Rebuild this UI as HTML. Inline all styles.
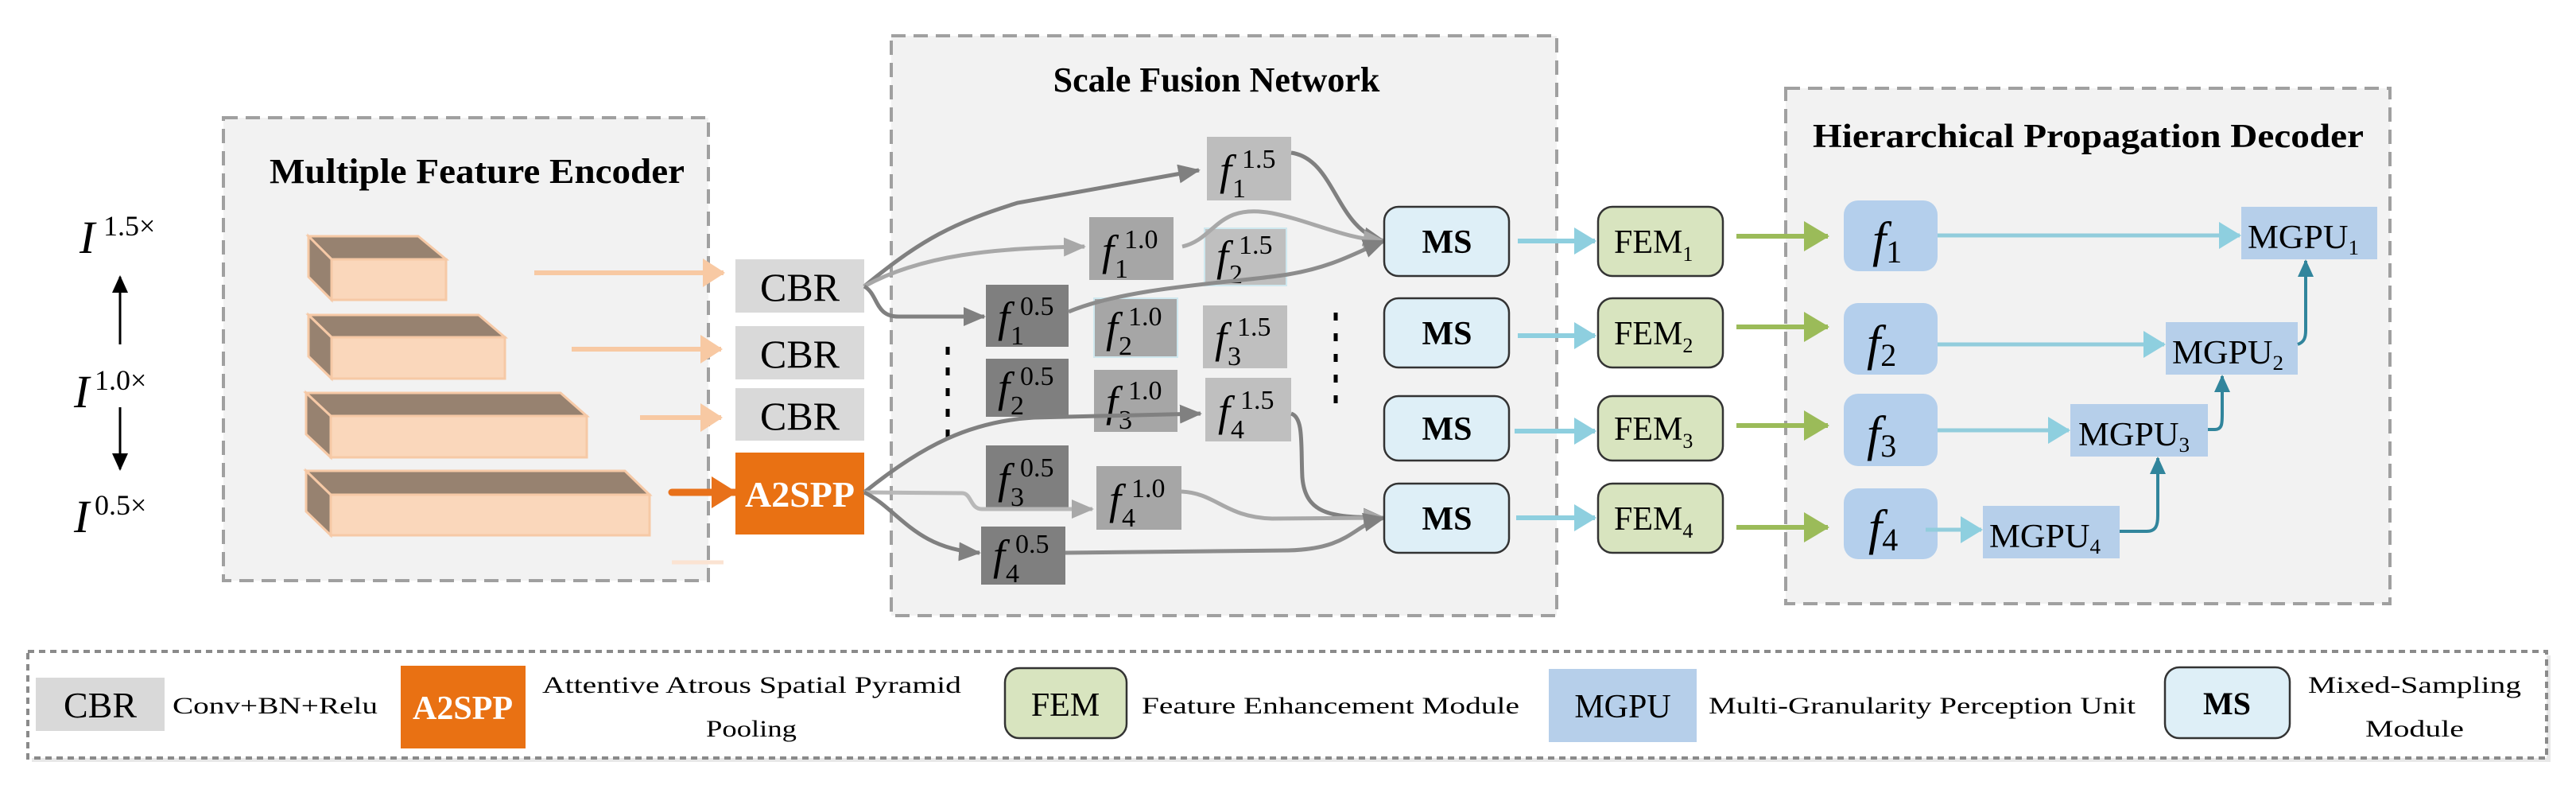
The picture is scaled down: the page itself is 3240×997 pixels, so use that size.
<!DOCTYPE html>
<html><head><meta charset="utf-8"><style>html,body{margin:0;padding:0;background:#fff}svg{display:block}svg text{font-family:"Liberation Serif","DejaVu Serif",serif}</style></head>
<body>
<svg width="3240" height="997" viewBox="0 0 3240 997" xmlns="http://www.w3.org/2000/svg">
<defs>
<marker id="ag" markerUnits="userSpaceOnUse" markerWidth="30" markerHeight="30" refX="26" refY="15" orient="auto"><path d="M0,3 L28,15 L0,27 Z" fill="#808080"/></marker>
<marker id="agl" markerUnits="userSpaceOnUse" markerWidth="30" markerHeight="30" refX="26" refY="15" orient="auto"><path d="M0,3 L28,15 L0,27 Z" fill="#a8a8a8"/></marker>
<marker id="ap" markerUnits="userSpaceOnUse" markerWidth="30" markerHeight="40" refX="26" refY="20" orient="auto"><path d="M0,2 L28,20 L0,38 Z" fill="#f8c9a3"/></marker>
<marker id="ao" markerUnits="userSpaceOnUse" markerWidth="34" markerHeight="44" refX="30" refY="22" orient="auto"><path d="M0,2 L32,22 L0,42 Z" fill="#e8711a"/></marker>
<marker id="ac" markerUnits="userSpaceOnUse" markerWidth="30" markerHeight="40" refX="26" refY="20" orient="auto"><path d="M0,3 L28,20 L0,37 Z" fill="#8ecfdf"/></marker>
<marker id="agr" markerUnits="userSpaceOnUse" markerWidth="34" markerHeight="44" refX="30" refY="22" orient="auto"><path d="M0,3 L32,22 L0,41 Z" fill="#9bbb59"/></marker>
<marker id="at" markerUnits="userSpaceOnUse" markerWidth="24" markerHeight="24" refX="20" refY="12" orient="auto"><path d="M0,2 L22,12 L0,22 Z" fill="#31859c"/></marker>
<marker id="ab" markerUnits="userSpaceOnUse" markerWidth="24" markerHeight="24" refX="20" refY="12" orient="auto"><path d="M0,2 L22,12 L0,22 Z" fill="#000"/></marker>
</defs>

<rect x="281" y="148" width="610" height="582" fill="#f2f2f2" stroke="#a0a0a0" stroke-width="4" stroke-dasharray="18,10"/>
<text x="339" y="230" font-size="44" font-weight="bold" textLength="522" lengthAdjust="spacingAndGlyphs">Multiple Feature Encoder</text>

<text x="100" y="318" font-size="58" font-style="italic">I</text><text x="130" y="296" font-size="36">1.5×</text>
<line x1="151" y1="433" x2="151" y2="348" stroke="#000" stroke-width="3" marker-end="url(#ab)"/>
<text x="93" y="512" font-size="58" font-style="italic">I</text><text x="119" y="490" font-size="36">1.0×</text>
<line x1="151" y1="512" x2="151" y2="590" stroke="#000" stroke-width="3" marker-end="url(#ab)"/>
<text x="93" y="669" font-size="58" font-style="italic">I</text><text x="119" y="647" font-size="36">0.5×</text>

<g stroke="#f6c9a6" stroke-width="3">
<polygon points="388,297 526,297 561,326 417,326" fill="#978270"/>
<polygon points="388,297 417,326 417,377 388,348" fill="#978270"/>
<rect x="417" y="326" width="144" height="51" fill="#fad7bb"/>
<polygon points="388,396 602,396 635,424 417,424" fill="#978270"/>
<polygon points="388,396 417,424 417,476 388,448" fill="#978270"/>
<rect x="417" y="424" width="218" height="52" fill="#fad7bb"/>
<polygon points="385,494 705,494 738,523 416,523" fill="#978270"/>
<polygon points="385,494 416,523 416,575 385,546" fill="#978270"/>
<rect x="416" y="523" width="322" height="52" fill="#fad7bb"/>
<polygon points="385,592 786,592 817,622 416,622" fill="#978270"/>
<polygon points="385,592 416,622 416,673 385,643" fill="#978270"/>
<rect x="416" y="622" width="401" height="51" fill="#fad7bb"/>
</g>
<line x1="672" y1="343" x2="910" y2="343" stroke="#f8c9a3" stroke-width="6" marker-end="url(#ap)"/>
<line x1="719" y1="439" x2="907" y2="439" stroke="#f8c9a3" stroke-width="6" marker-end="url(#ap)"/>
<line x1="805" y1="525" x2="907" y2="525" stroke="#f8c9a3" stroke-width="6" marker-end="url(#ap)"/>
<line x1="845" y1="619" x2="925" y2="619" stroke="#e8711a" stroke-width="9" stroke-linecap="round" marker-end="url(#ao)"/>
<line x1="845" y1="707" x2="910" y2="707" stroke="#fbe3d2" stroke-width="5"/>

<rect x="925" y="326" width="162" height="67" fill="#d9d9d9"/>
<text x="1006" y="378" font-size="50" text-anchor="middle">CBR</text>
<rect x="925" y="410" width="162" height="67" fill="#d9d9d9"/>
<text x="1006" y="462" font-size="50" text-anchor="middle">CBR</text>
<rect x="925" y="488" width="162" height="66" fill="#d9d9d9"/>
<text x="1006" y="540" font-size="50" text-anchor="middle">CBR</text>
<rect x="925" y="569" width="162" height="103" fill="#e97113"/>
<text x="1006" y="637" font-size="46" font-weight="bold" fill="#fff" text-anchor="middle">A2SPP</text>

<rect x="1121" y="45" width="837" height="729" fill="#f2f2f2" stroke="#a0a0a0" stroke-width="4" stroke-dasharray="18,10"/>
<text x="1530" y="115" font-size="44" font-weight="bold" text-anchor="middle">Scale Fusion Network</text>

<rect x="1518" y="172" width="106" height="80" fill="#bdbdbd"/>
<rect x="1370" y="273" width="106" height="79" fill="#a6a6a6"/>
<rect x="1515" y="287" width="103" height="72" fill="#bfbfbf" stroke="#cfe8ef" stroke-width="2"/>
<rect x="1240" y="358" width="104" height="78" fill="#7f7f7f"/>
<rect x="1376" y="375" width="105" height="74" fill="#a6a6a6" stroke="#cfe8ef" stroke-width="2"/>
<rect x="1513" y="384" width="106" height="79" fill="#bfbfbf"/>
<rect x="1240" y="451" width="104" height="73" fill="#7f7f7f"/>
<rect x="1376" y="465" width="105" height="78" fill="#a6a6a6"/>
<rect x="1516" y="475" width="108" height="80" fill="#bfbfbf"/>
<rect x="1240" y="560" width="104" height="80" fill="#7f7f7f"/>
<rect x="1379" y="586" width="107" height="80" fill="#a6a6a6"/>
<rect x="1234" y="662" width="106" height="73" fill="#7f7f7f"/>

<g font-size="34">
<text x="1534" y="232" font-size="54" font-style="italic">f</text><text x="1562" y="211">1.5</text><text x="1550" y="248">1</text>
<text x="1386" y="333" font-size="54" font-style="italic">f</text><text x="1414" y="312">1.0</text><text x="1402" y="349">1</text>
<text x="1530" y="340" font-size="54" font-style="italic">f</text><text x="1558" y="319">1.5</text><text x="1546" y="356">2</text>
<text x="1255" y="417" font-size="54" font-style="italic">f</text><text x="1283" y="396">0.5</text><text x="1271" y="433">1</text>
<text x="1391" y="430" font-size="54" font-style="italic">f</text><text x="1419" y="409">1.0</text><text x="1407" y="446">2</text>
<text x="1528" y="443" font-size="54" font-style="italic">f</text><text x="1556" y="422">1.5</text><text x="1544" y="459">3</text>
<text x="1255" y="505" font-size="54" font-style="italic">f</text><text x="1283" y="484">0.5</text><text x="1271" y="521">2</text>
<text x="1391" y="523" font-size="54" font-style="italic">f</text><text x="1419" y="502">1.0</text><text x="1407" y="539">3</text>
<text x="1532" y="535" font-size="54" font-style="italic">f</text><text x="1560" y="514">1.5</text><text x="1548" y="551">4</text>
<text x="1255" y="620" font-size="54" font-style="italic">f</text><text x="1283" y="599">0.5</text><text x="1271" y="636">3</text>
<text x="1395" y="646" font-size="54" font-style="italic">f</text><text x="1423" y="625">1.0</text><text x="1411" y="662">4</text>
<text x="1249" y="716" font-size="54" font-style="italic">f</text><text x="1277" y="695">0.5</text><text x="1265" y="732">4</text>
</g>

<line x1="1192" y1="436" x2="1192" y2="560" stroke="#000" stroke-width="5" stroke-dasharray="10,16"/>
<line x1="1680" y1="393" x2="1680" y2="518" stroke="#000" stroke-width="5" stroke-dasharray="10,16"/>

<g fill="none" stroke-width="5">
<path d="M1087,360 C1160,300 1200,280 1280,255 L1508,214" stroke="#808080" marker-end="url(#ag)"/>
<path d="M1087,360 C1160,320 1250,312 1364,310" stroke="#a8a8a8" marker-end="url(#agl)"/>
<path d="M1087,360 C1105,370 1100,398 1130,398 L1238,398" stroke="#808080" marker-end="url(#ag)"/>
<path d="M1624,192 C1680,200 1680,290 1741,303" stroke="#808080" marker-end="url(#ag)"/>
<path d="M1487,310 C1530,300 1530,255 1600,268 C1650,278 1690,300 1741,303" stroke="#a8a8a8" marker-end="url(#agl)"/>
<path d="M1344,392 C1420,360 1560,355 1620,345 C1680,335 1710,315 1741,303" stroke="#8c8c8c" marker-end="url(#ag)"/>
<path d="M1087,619 C1160,560 1220,530 1300,525 L1510,520" stroke="#808080" marker-end="url(#ag)"/>
<path d="M1087,619 L1210,620 C1222,620 1220,640 1235,640 L1374,640" stroke="#b8b8b8" marker-end="url(#agl)"/>
<path d="M1087,619 C1130,640 1150,690 1232,695" stroke="#808080" marker-end="url(#ag)"/>
<path d="M1624,520 C1640,525 1636,560 1638,600 C1642,650 1680,650 1741,651" stroke="#808080" marker-end="url(#ag)"/>
<path d="M1486,618 C1530,620 1540,650 1600,652 L1741,651" stroke="#a8a8a8" marker-end="url(#agl)"/>
<path d="M1340,695 L1620,692 C1700,690 1700,660 1741,651" stroke="#8c8c8c" marker-end="url(#ag)"/>
</g>

<g fill="#deeff7" stroke="#333" stroke-width="2.5">
<rect x="1741" y="260" width="157" height="87" rx="18"/>
<rect x="1741" y="375" width="157" height="87" rx="18"/>
<rect x="1741" y="498" width="157" height="81" rx="18"/>
<rect x="1741" y="608" width="157" height="87" rx="18"/>
</g>
<g font-size="42" font-weight="bold" text-anchor="middle">
<text x="1820" y="318">MS</text><text x="1820" y="433">MS</text><text x="1820" y="553">MS</text><text x="1820" y="666">MS</text>
</g>
<g stroke="#8ecfdf" stroke-width="6">
<line x1="1909" y1="303" x2="2006" y2="303" marker-end="url(#ac)"/>
<line x1="1909" y1="422" x2="2006" y2="422" marker-end="url(#ac)"/>
<line x1="1905" y1="542" x2="2006" y2="542" marker-end="url(#ac)"/>
<line x1="1907" y1="651" x2="2006" y2="651" marker-end="url(#ac)"/>
</g>
<g fill="#d8e4bf" stroke="#333" stroke-width="2.5">
<rect x="2010" y="260" width="157" height="87" rx="18"/>
<rect x="2010" y="375" width="157" height="87" rx="18"/>
<rect x="2010" y="498" width="157" height="81" rx="18"/>
<rect x="2010" y="608" width="157" height="87" rx="18"/>
</g>
<g font-size="42">
<text x="2030" y="318">FEM<tspan font-size="26" dy="10">1</tspan></text>
<text x="2030" y="433">FEM<tspan font-size="26" dy="10">2</tspan></text>
<text x="2030" y="553">FEM<tspan font-size="26" dy="10">3</tspan></text>
<text x="2030" y="666">FEM<tspan font-size="26" dy="10">4</tspan></text>
</g>

<rect x="2246" y="111" width="760" height="648" fill="#f2f2f2" stroke="#a0a0a0" stroke-width="4" stroke-dasharray="18,10"/>
<g stroke="#9bbb59" stroke-width="6">
<line x1="2184" y1="297" x2="2299" y2="297" marker-end="url(#agr)"/>
<line x1="2184" y1="411" x2="2299" y2="411" marker-end="url(#agr)"/>
<line x1="2184" y1="535" x2="2299" y2="535" marker-end="url(#agr)"/>
<line x1="2184" y1="663" x2="2299" y2="663" marker-end="url(#agr)"/>
</g>
<text x="2280" y="185" font-size="42" font-weight="bold" textLength="693" lengthAdjust="spacingAndGlyphs">Hierarchical Propagation Decoder</text>
<g fill="#b4cfec">
<rect x="2319" y="252" width="118" height="89" rx="18"/>
<rect x="2319" y="381" width="118" height="90" rx="18"/>
<rect x="2319" y="495" width="118" height="91" rx="18"/>
<rect x="2319" y="614" width="118" height="89" rx="18"/>
</g>
<g font-size="62" font-style="italic">
<text x="2355" y="322">f<tspan font-style="normal" font-size="40" dy="8">1</tspan></text>
<text x="2348" y="452">f<tspan font-style="normal" font-size="40" dy="8">2</tspan></text>
<text x="2348" y="566">f<tspan font-style="normal" font-size="40" dy="8">3</tspan></text>
<text x="2350" y="684">f<tspan font-style="normal" font-size="40" dy="8">4</tspan></text>
</g>
<g fill="#b6cfea">
<rect x="2819" y="260" width="171" height="66"/>
<rect x="2724" y="405" width="166" height="66"/>
<rect x="2604" y="508" width="173" height="66"/>
<rect x="2494" y="636" width="172" height="66"/>
</g>
<g font-size="42">
<text x="2827" y="312" textLength="140" lengthAdjust="spacingAndGlyphs">MGPU<tspan font-size="26" dy="8">1</tspan></text>
<text x="2732" y="457" textLength="140" lengthAdjust="spacingAndGlyphs">MGPU<tspan font-size="26" dy="8">2</tspan></text>
<text x="2614" y="560" textLength="140" lengthAdjust="spacingAndGlyphs">MGPU<tspan font-size="26" dy="8">3</tspan></text>
<text x="2502" y="688" textLength="140" lengthAdjust="spacingAndGlyphs">MGPU<tspan font-size="26" dy="8">4</tspan></text>
</g>
<g stroke="#92cddc" stroke-width="5">
<line x1="2437" y1="296" x2="2817" y2="296" marker-end="url(#ac)"/>
<line x1="2437" y1="433" x2="2722" y2="433" marker-end="url(#ac)"/>
<line x1="2437" y1="541" x2="2602" y2="541" marker-end="url(#ac)"/>
<line x1="2422" y1="666" x2="2492" y2="666" marker-end="url(#ac)"/>
</g>
<g stroke="#31859c" stroke-width="4" fill="none">
<path d="M2666,668 L2700,668 C2712,668 2714,660 2714,648 L2714,576" marker-end="url(#at)"/>
<path d="M2777,540 L2786,540 C2795,540 2795,532 2795,520 L2795,473" marker-end="url(#at)"/>
<path d="M2890,433 C2898,430 2900,425 2900,415 L2900,328" marker-end="url(#at)"/>
</g>

<rect x="40" y="824" width="3168" height="134" fill="#d9d9d9" opacity="0.6"/>
<rect x="35" y="819" width="3168" height="134" fill="#fff" stroke="#8a8a8a" stroke-width="4" stroke-dasharray="8,6"/>
<rect x="45" y="852" width="162" height="67" fill="#d9d9d9"/>
<text x="126" y="902" font-size="46" text-anchor="middle">CBR</text>
<text x="217" y="897" font-size="30" textLength="258" lengthAdjust="spacingAndGlyphs">Conv+BN+Relu</text>
<rect x="504" y="837" width="157" height="104" fill="#e97113"/>
<text x="582" y="904" font-size="42" font-weight="bold" fill="#fff" text-anchor="middle">A2SPP</text>
<text x="682" y="871" font-size="30" textLength="527" lengthAdjust="spacingAndGlyphs">Attentive Atrous Spatial Pyramid</text>
<text x="888" y="926" font-size="30" textLength="114" lengthAdjust="spacingAndGlyphs">Pooling</text>
<rect x="1264" y="840" width="153" height="88" rx="18" fill="#d8e4bf" stroke="#333" stroke-width="2.5"/>
<text x="1340" y="900" font-size="42" text-anchor="middle">FEM</text>
<text x="1436" y="897" font-size="30" textLength="475" lengthAdjust="spacingAndGlyphs">Feature Enhancement Module</text>
<rect x="1948" y="841" width="186" height="92" fill="#b6cfea"/>
<text x="2041" y="902" font-size="42" text-anchor="middle">MGPU</text>
<text x="2149" y="897" font-size="30" textLength="537" lengthAdjust="spacingAndGlyphs">Multi-Granularity Perception Unit</text>
<rect x="2723" y="839" width="157" height="89" rx="18" fill="#deeff7" stroke="#333" stroke-width="2.5"/>
<text x="2801" y="898" font-size="40" font-weight="bold" text-anchor="middle">MS</text>
<text x="2903" y="871" font-size="30" textLength="268" lengthAdjust="spacingAndGlyphs">Mixed-Sampling</text>
<text x="2975" y="926" font-size="30" textLength="124" lengthAdjust="spacingAndGlyphs">Module</text>
</svg>
</body></html>
